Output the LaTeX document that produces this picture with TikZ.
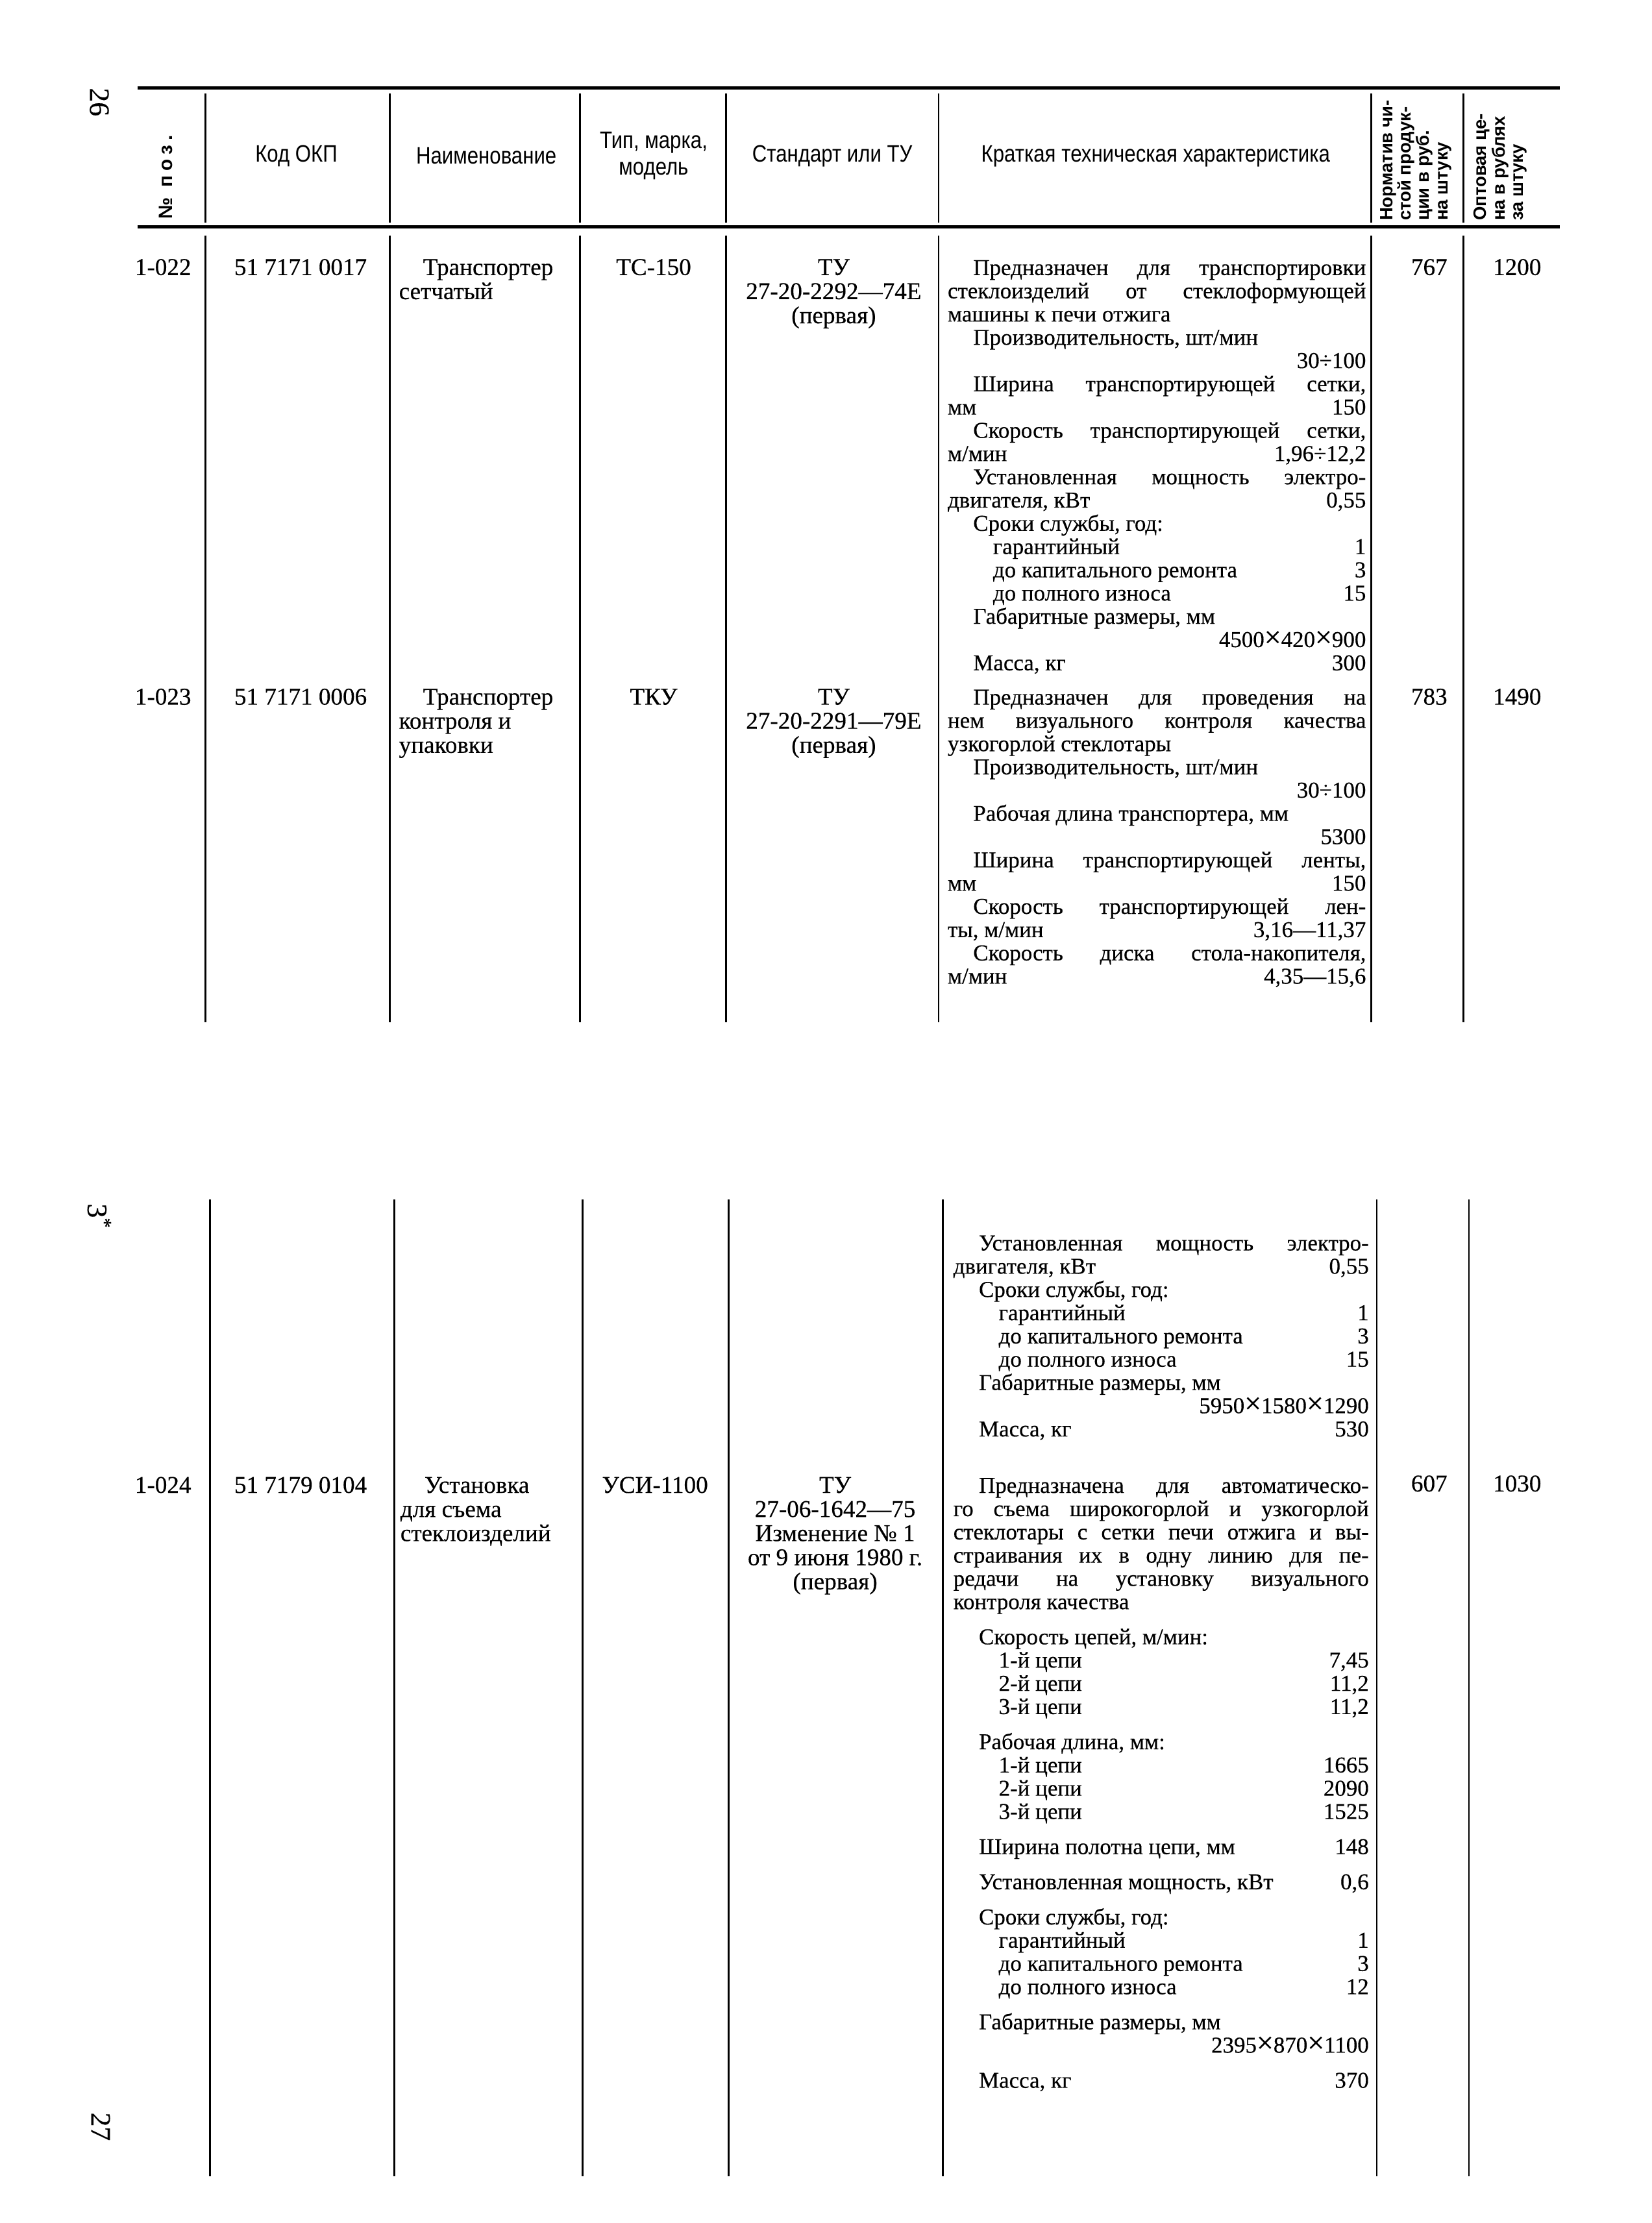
\documentclass[tikz,border=0pt]{standalone}
\usepackage{fontspec}
\setmainfont{Liberation Serif}[FakeBold=0.4]
\setsansfont{Liberation Sans}
\newfontfamily\hdrfont[FakeStretch=0.85]{Liberation Sans}
\newfontfamily\posfont[LetterSpace=25]{Liberation Sans}

% line builders for the table cells
\newcommand\itemind{\hspace*{9pt}}
\newcommand\subind{\hspace*{16pt}}
\newcommand\jline[1]{\hbox to\hsize{#1}}
\newcommand\lrline[2]{\hbox to\hsize{#1\hfill#2}}
\newcommand\itemgap{\vskip4.2pt}
\newcommand\descbox[2]{\vtop{\hsize=#1\relax#2}}
\newcommand\leftstack[1]{\vtop{\halign{##\hfil\cr#1\crcr}}}
\newcommand\midstack[1]{\vtop{\halign{\hfil##\hfil\cr#1\crcr}}}
\newcommand\bx{{\fontsize{10.5}{10.5}\selectfont×}}

\begin{document}
\begin{tikzpicture}[
    x=0.5pt, y=-0.5pt,
    rule/.style={line width=1.3pt},
    colline/.style={line width=0.6pt},
    hdr/.style={font=\hdrfont\fontsize{8.4}{9.5}\selectfont, inner sep=0pt},
    vhdr/.style={font=\sffamily\bfseries\fontsize{6.3}{6.5}\selectfont, rotate=90, anchor=north west, inner sep=0pt},
    cell/.style={font=\fontsize{8.5}{8.5}\selectfont, inner sep=0pt, anchor=base},
    namecell/.style={cell, anchor=base west},
    desc/.style={font=\fontsize{8}{8.2}\selectfont, inner sep=0pt, anchor=base west},
    pagenum/.style={font=\fontsize{10}{10}\selectfont, rotate=-90, inner sep=0pt}
]
    \useasboundingbox (0,0) rectangle (1165,1568);

    % Header
    \draw[rule] (97,62) -- (1100,62);
    \draw[rule] (97,160) -- (1100,160);
    \foreach \x in {145,275,409,512,662,967,1032}
        \draw[colline] (\x,66) -- (\x,157);

    \node[vhdr, anchor=west, font=\posfont\bfseries\fontsize{6.8}{7}\selectfont] (hpos) at (117,155) {№ поз.};
    \node[hdr] (hokp) at (209,110) {Код ОКП};
    \node[hdr] (hname) at (343,110) {Наименование};
    \node[hdr] (htype) at (461,110) {\midstack{Тип, марка,\cr модель}};
    \node[hdr] (hstd) at (587,110) {Стандарт или ТУ};
    \node[hdr] (hdesc) at (815,110) {Краткая техническая характеристика};
    \node[vhdr] (hnorm) at (973,156) {\leftstack{Норматив чи-\cr стой продук-\cr ции в руб.\cr на штуку}};
    \node[vhdr] (hprice) at (1039,156) {\leftstack{Оптовая це-\cr на в рублях\cr за штуку}};

    % Page marks
    \node[pagenum] (page26) at (70,72) {26};
    \node[pagenum] (mark3) at (70,858) {3\textsuperscript{*}};
    \node[pagenum] (page27) at (71,1500) {27};

    % Upper block of columns
    \foreach \x in {145,275,409,512,662,967,1032}
        \draw[colline] (\x,166) -- (\x,721);

    % Row 1-022
    \node[cell] (pos22) at (115,194) {1-022};
    \node[cell] (okp22) at (212,194) {51 7171 0017};
    \node[namecell] (name22) at (281,194) {\leftstack{\hspace*{8.5pt}Транспортер\cr сетчатый}};
    \node[cell] (type22) at (461,194) {ТС-150};
    \node[cell] (std22) at (588,194) {\midstack{ТУ\cr 27-20-2292—74Е\cr (первая)}};
    \node[desc] (desc22) at (668,194) {\descbox{147.5pt}{%
        \jline{\itemind Предназначен для транспортировки}
        \jline{стеклоизделий от стеклоформующей}
        \lrline{машины к печи отжига}{}
        \lrline{\itemind Производительность, шт/мин}{}
        \lrline{}{30÷100}
        \jline{\itemind Ширина транспортирующей сетки,}
        \lrline{мм}{150}
        \jline{\itemind Скорость транспортирующей сетки,}
        \lrline{м/мин}{1,96÷12,2}
        \jline{\itemind Установленная мощность электро-}
        \lrline{двигателя, кВт}{0,55}
        \lrline{\itemind Сроки службы, год:}{}
        \lrline{\subind гарантийный}{1}
        \lrline{\subind до капитального ремонта}{3}
        \lrline{\subind до полного износа}{15}
        \lrline{\itemind Габаритные размеры, мм}{}
        \lrline{}{4500\bx420\bx900}
        \lrline{\itemind Масса, кг}{300}}};
    \node[cell] (norm22) at (1008,194) {767};
    \node[cell] (price22) at (1070,194) {1200};

    % Row 1-023
    \node[cell] (pos23) at (115,497) {1-023};
    \node[cell] (okp23) at (212,497) {51 7171 0006};
    \node[namecell] (name23) at (281,497) {\leftstack{\hspace*{8.5pt}Транспортер\cr контроля и\cr упаковки}};
    \node[cell] (type23) at (461,497) {ТКУ};
    \node[cell] (std23) at (588,497) {\midstack{ТУ\cr 27-20-2291—79Е\cr (первая)}};
    \node[desc] (desc23) at (668,497) {\descbox{147.5pt}{%
        \jline{\itemind Предназначен для проведения на}
        \jline{нем визуального контроля качества}
        \lrline{узкогорлой стеклотары}{}
        \lrline{\itemind Производительность, шт/мин}{}
        \lrline{}{30÷100}
        \lrline{\itemind Рабочая длина транспортера, мм}{}
        \lrline{}{5300}
        \jline{\itemind Ширина транспортирующей ленты,}
        \lrline{мм}{150}
        \jline{\itemind Скорость транспортирующей лен-}
        \lrline{ты, м/мин}{3,16—11,37}
        \jline{\itemind Скорость диска стола-накопителя,}
        \lrline{м/мин}{4,35—15,6}}};
    \node[cell] (norm23) at (1008,497) {783};
    \node[cell] (price23) at (1070,497) {1490};

    % Lower block of columns
    \foreach \x in {148,278,411,514,665,971,1036}
        \draw[colline] (\x,846) -- (\x,1535);

    % End of row 1-023 (continued)
    \node[desc] (desc23b) at (672,882) {\descbox{146.5pt}{%
        \jline{\itemind Установленная мощность электро-}
        \lrline{двигателя, кВт}{0,55}
        \lrline{\itemind Сроки службы, год:}{}
        \lrline{\subind гарантийный}{1}
        \lrline{\subind до капитального ремонта}{3}
        \lrline{\subind до полного износа}{15}
        \lrline{\itemind Габаритные размеры, мм}{}
        \lrline{}{5950\bx1580\bx1290}
        \lrline{\itemind Масса, кг}{530}}};

    % Row 1-024
    \node[cell] (pos24) at (115,1053) {1-024};
    \node[cell] (okp24) at (212,1053) {51 7179 0104};
    \node[namecell] (name24) at (282,1053) {\leftstack{\hspace*{8.5pt}Установка\cr для съема\cr стеклоизделий}};
    \node[cell] (type24) at (462,1053) {УСИ-1100};
    \node[cell] (std24) at (589,1053) {\midstack{ТУ\cr 27-06-1642—75\cr Изменение № 1\cr от 9 июня 1980 г.\cr (первая)}};
    \node[desc] (desc24) at (672,1053) {\descbox{146.5pt}{%
        \jline{\itemind Предназначена для автоматическо-}
        \jline{го съема широкогорлой и узкогорлой}
        \jline{стеклотары с сетки печи отжига и вы-}
        \jline{страивания их в одну линию для пе-}
        \jline{редачи на установку визуального}
        \lrline{контроля качества}{}
        \itemgap
        \lrline{\itemind Скорость цепей, м/мин:}{}
        \lrline{\subind 1-й цепи}{7,45}
        \lrline{\subind 2-й цепи}{11,2}
        \lrline{\subind 3-й цепи}{11,2}
        \itemgap
        \lrline{\itemind Рабочая длина, мм:}{}
        \lrline{\subind 1-й цепи}{1665}
        \lrline{\subind 2-й цепи}{2090}
        \lrline{\subind 3-й цепи}{1525}
        \itemgap
        \lrline{\itemind Ширина полотна цепи, мм}{148}
        \itemgap
        \lrline{\itemind Установленная мощность, кВт}{0,6}
        \itemgap
        \lrline{\itemind Сроки службы, год:}{}
        \lrline{\subind гарантийный}{1}
        \lrline{\subind до капитального ремонта}{3}
        \lrline{\subind до полного износа}{12}
        \itemgap
        \lrline{\itemind Габаритные размеры, мм}{}
        \lrline{}{2395\bx870\bx1100}
        \itemgap
        \lrline{\itemind Масса, кг}{370}}};
    \node[cell] (norm24) at (1008,1052) {607};
    \node[cell] (price24) at (1070,1052) {1030};
\end{tikzpicture}
\end{document}
